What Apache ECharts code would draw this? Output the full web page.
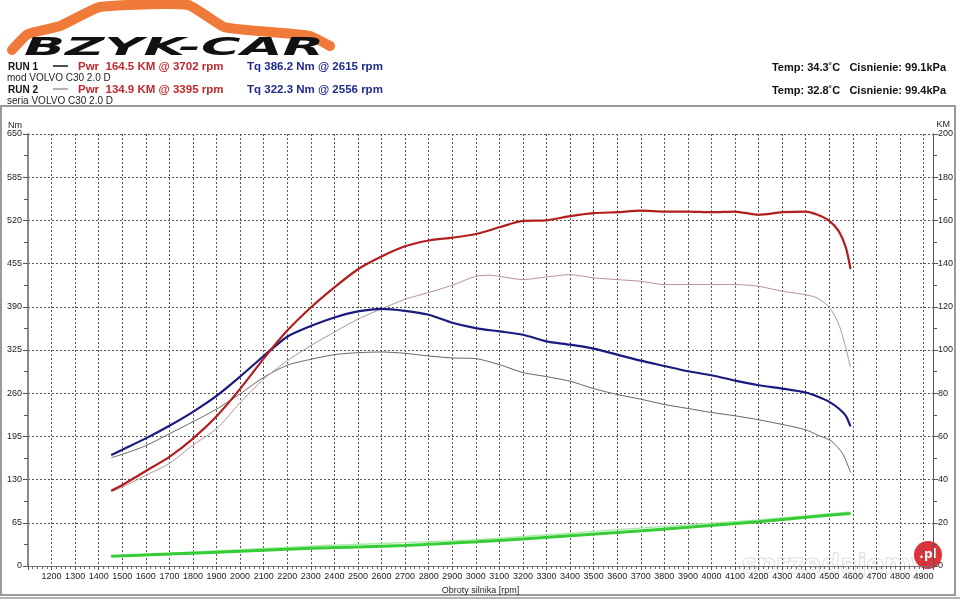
<!DOCTYPE html>
<html>
<head>
<meta charset="utf-8">
<script src="https://cdn.jsdelivr.net/npm/echarts@6/dist/echarts.min.js"></script>
<style>html,body{margin:0;padding:0;background:#fff}#c{width:960px;height:600px}</style>
</head>
<body>
<div id="c"></div>
<script>
// ---- data ----
const rpmRun1 = [1453,1500,1600,1700,1800,1900,2000,2100,2200,2300,2400,2500,2600,2700,2800,2900,3000,3100,3200,3300,3400,3500,3600,3700,3800,3900,4000,4100,4200,4300,4400,4450,4500,4540,4570,4590];
const tqRun1 = [167,175,192,211,232,256,285,316,345,361,374,383,387,384,378,366,358,353,348,338,333,327,318,309,301,293,287,279,272,267,261,255,247,237,226,210];
const pwrRun1 = [34.8,37.5,44,50.5,59,69.3,82,96,109,119.7,129,137.4,143.3,148,150.7,152,153.7,156.8,159.8,160,162,163.4,163.8,164.5,164.1,164.1,163.8,164.1,162.6,163.8,164.1,162.6,159.8,155,147.5,137.5];

const rpmTq2 = [1453,1500,1600,1700,1800,1900,2000,2100,2200,2300,2400,2500,2600,2700,2800,2900,3000,3100,3200,3300,3400,3500,3600,3700,3800,3900,4000,4100,4200,4300,4400,4450,4500,4530,4560,4590];
const tqRun2 = [163,168,181,199,217,236,259,284,302,311,318,321,322,320,316,313,312,303,291,285,278,267,258,251,243,237,231,226,220,213,205,197,190,181,167,141];
const rpmPwr2 = [1453,1500,1600,1700,1800,1900,2000,2100,2200,2300,2400,2500,2600,2700,2800,2900,3000,3060,3100,3200,3300,3400,3500,3600,3700,3800,3900,4000,4100,4200,4300,4400,4450,4500,4540,4570,4590];
const pwrRun2 = [34.5,36.5,42,47.5,56,63.5,75.6,86.5,95,102,108.3,114.3,119,123.5,126.6,130,134.1,134.6,134.1,132.6,133.8,134.9,133.4,132.6,131.8,130.3,130.3,130.3,130.3,129.5,127.2,125.6,124,119.8,112,101,92];

const rpmLoss1 = [1453,1700,2000,2300,2700,3000,3200,3600,3900,4200,4450,4590];
const lossRun1 = [4.5,5.5,6.8,8.2,9.5,11.2,12.5,15.5,17.9,20.5,23,24.3];
const rpmLoss2 = [1453,2300,3000,3600,4200,4590];
const lossRun2 = [4.6,9.2,12.2,16.8,21.4,25.1];

const xTicks = {min:1100, max:4940, interval:100};
const nmTicks = {min:0, max:650, interval:65};
const kmTicks = {min:0, max:200, interval:20};

const pairs = (xs, ys) => xs.map((x, i) => [x, ys[i]]);

const chart = echarts.init(document.getElementById('c'), null, {renderer:'canvas'});
const FONT = '"Liberation Sans", Arial, sans-serif';
const gridDash = {color:'#555', width:1, type:[2,2]};

const option = {
  animation:false,
  backgroundColor:'#fff',
  textStyle:{fontFamily:FONT},
  grid:{left:28, right:27, top:134, bottom:33},
  xAxis:{
    type:'value', min:xTicks.min, max:xTicks.max, interval:xTicks.interval,
    name:'Obroty silnika [rpm]', nameLocation:'middle', nameGap:20,
    nameTextStyle:{fontSize:9, color:'#222', fontFamily:FONT},
    axisLine:{show:true, lineStyle:{color:'#777', width:1}},
    axisTick:{show:true, length:4, lineStyle:{color:'#555'}},
    minorTick:{show:true, splitNumber:5, length:3, lineStyle:{color:'#666'}},
    axisLabel:{fontSize:9, color:'#222', margin:6, fontFamily:FONT,
      formatter:v => (v % 100 === 0 && v > 1100) ? String(v) : ''},
    splitLine:{show:true, lineStyle:gridDash}
  },
  yAxis:[
    {type:'value', min:nmTicks.min, max:nmTicks.max, interval:nmTicks.interval, position:'left',
     axisLine:{show:true, lineStyle:{color:'#8a8a8a', width:2}},
     axisTick:{show:true, length:5, lineStyle:{color:'#555'}},
     minorTick:{show:true, splitNumber:2, length:4, lineStyle:{color:'#555'}},
     axisLabel:{fontSize:9, color:'#222', margin:6, fontFamily:FONT},
     splitLine:{show:true, lineStyle:gridDash}},
    {type:'value', min:kmTicks.min, max:kmTicks.max, interval:kmTicks.interval, position:'right',
     axisLine:{show:true, lineStyle:{color:'#555', width:1}},
     axisTick:{show:true, length:5, lineStyle:{color:'#555'}},
     minorTick:{show:true, splitNumber:2, length:4, lineStyle:{color:'#555'}},
     axisLabel:{fontSize:9, color:'#222', margin:5, fontFamily:FONT},
     splitLine:{show:false}}
  ],
  series:[
    {name:'Loss RUN2', type:'line', yAxisIndex:1, data:pairs(rpmLoss2, lossRun2), showSymbol:false, smooth:0.3,
     lineStyle:{color:'#a6eaa6', width:1.3}},
    {name:'Loss RUN1', type:'line', yAxisIndex:1, data:pairs(rpmLoss1, lossRun1), showSymbol:false, smooth:0.3,
     lineStyle:{color:'#36cc36', width:3}},
    {name:'Tq RUN2', type:'line', yAxisIndex:0, data:pairs(rpmTq2, tqRun2), showSymbol:false, smooth:0.25,
     lineStyle:{color:'#6e6262', width:1}},
    {name:'Pwr RUN2', type:'line', yAxisIndex:1, data:pairs(rpmPwr2, pwrRun2), showSymbol:false, smooth:0.25,
     lineStyle:{color:'#b49494', width:1}},
    {name:'Tq RUN1', type:'line', yAxisIndex:0, data:pairs(rpmRun1, tqRun1), showSymbol:false, smooth:0.25,
     lineStyle:{color:'#1a1a80', width:2.2}},
    {name:'Pwr RUN1', type:'line', yAxisIndex:1, data:pairs(rpmRun1, pwrRun1), showSymbol:false, smooth:0.25,
     lineStyle:{color:'#b21e1e', width:2.2}}
  ],
  graphic:[
    // chart frame
    {type:'rect', shape:{x:1, y:106, width:954, height:489}, style:{fill:'none', stroke:'#9a9a9a', lineWidth:2}, silent:true, z:-10},
    {type:'line', shape:{x1:0, y1:598, x2:960, y2:598}, style:{stroke:'#9a9a9a', lineWidth:1.5}, silent:true},
    // logo swoosh
    {type:'polyline', shape:{points:[[12,50],[28,34],[60,26],[100,7],[188,5],[224,27],[270,32],[310,36],[330,46]], smooth:0.15},
     style:{fill:'none', stroke:'#f07a3a', lineWidth:10, lineCap:'round', lineJoin:'round'}, silent:true},
    {type:'text', x:24, y:48, scaleX:2.25, scaleY:1.05, style:{text:'BZYK-CAR', fill:'#111',
      font:'italic bold 24px "DejaVu Sans", sans-serif', textVerticalAlign:'middle'}, silent:true},
    // legend texts
    {type:'text', x:8, y:67, style:{text:'RUN 1', fill:'#111', font:'bold 10px "Liberation Sans", Arial', textVerticalAlign:'middle'}},
    {type:'line', shape:{x1:53, y1:66, x2:68, y2:66}, style:{stroke:'#111', lineWidth:1.5}},
    {type:'text', x:78, y:67, style:{text:'Pwr  164.5 KM @ 3702 rpm', fill:'#c0282d', font:'bold 11.5px "Liberation Sans", Arial', textVerticalAlign:'middle'}},
    {type:'text', x:247, y:67, style:{text:'Tq 386.2 Nm @ 2615 rpm', fill:'#1f2a8a', font:'bold 11.5px "Liberation Sans", Arial', textVerticalAlign:'middle'}},
    {type:'text', x:7, y:78, style:{text:'mod VOLVO C30 2.0 D', fill:'#222', font:'10px "Liberation Sans", Arial', textVerticalAlign:'middle'}},
    {type:'text', x:8, y:90, style:{text:'RUN 2', fill:'#111', font:'bold 10px "Liberation Sans", Arial', textVerticalAlign:'middle'}},
    {type:'line', shape:{x1:53, y1:89, x2:68, y2:89}, style:{stroke:'#999', lineWidth:1.5}},
    {type:'text', x:78, y:90, style:{text:'Pwr  134.9 KM @ 3395 rpm', fill:'#c0282d', font:'bold 11.5px "Liberation Sans", Arial', textVerticalAlign:'middle'}},
    {type:'text', x:247, y:90, style:{text:'Tq 322.3 Nm @ 2556 rpm', fill:'#1f2a8a', font:'bold 11.5px "Liberation Sans", Arial', textVerticalAlign:'middle'}},
    {type:'text', x:7, y:101, style:{text:'seria VOLVO C30 2.0 D', fill:'#222', font:'10px "Liberation Sans", Arial', textVerticalAlign:'middle'}},
    {type:'text', x:946, y:68, style:{text:'Temp: 34.3˚C   Cisnienie: 99.1kPa', fill:'#111', font:'bold 11px "Liberation Sans", Arial', textAlign:'right', textVerticalAlign:'middle'}},
    {type:'text', x:946, y:91, style:{text:'Temp: 32.8˚C   Cisnienie: 99.4kPa', fill:'#111', font:'bold 11px "Liberation Sans", Arial', textAlign:'right', textVerticalAlign:'middle'}},
    // axis unit titles
    {type:'text', x:22, y:126, style:{text:'Nm', fill:'#222', font:'9px "Liberation Sans", Arial', textAlign:'right', textVerticalAlign:'middle'}},
    {type:'text', x:950, y:125, style:{text:'KM', fill:'#222', font:'9px "Liberation Sans", Arial', textAlign:'right', textVerticalAlign:'middle'}},
    // watermark
    {type:'text', x:835, y:566, style:{text:'sprzedajemy', fill:'rgba(255,255,255,0.55)', stroke:'rgba(140,140,140,0.4)', lineWidth:1,
      font:'bold 26px "DejaVu Sans", sans-serif', textAlign:'center', textVerticalAlign:'middle'}, silent:true},
    {type:'circle', shape:{cx:928, cy:555, r:14}, style:{fill:'#e0323a'}, silent:true},
    {type:'text', x:928, y:555, style:{text:'.pl', fill:'#fff', font:'bold 12px "DejaVu Sans", sans-serif', textAlign:'center', textVerticalAlign:'middle'}, silent:true}
  ]
};
chart.setOption(option);
</script>
</body>
</html>
